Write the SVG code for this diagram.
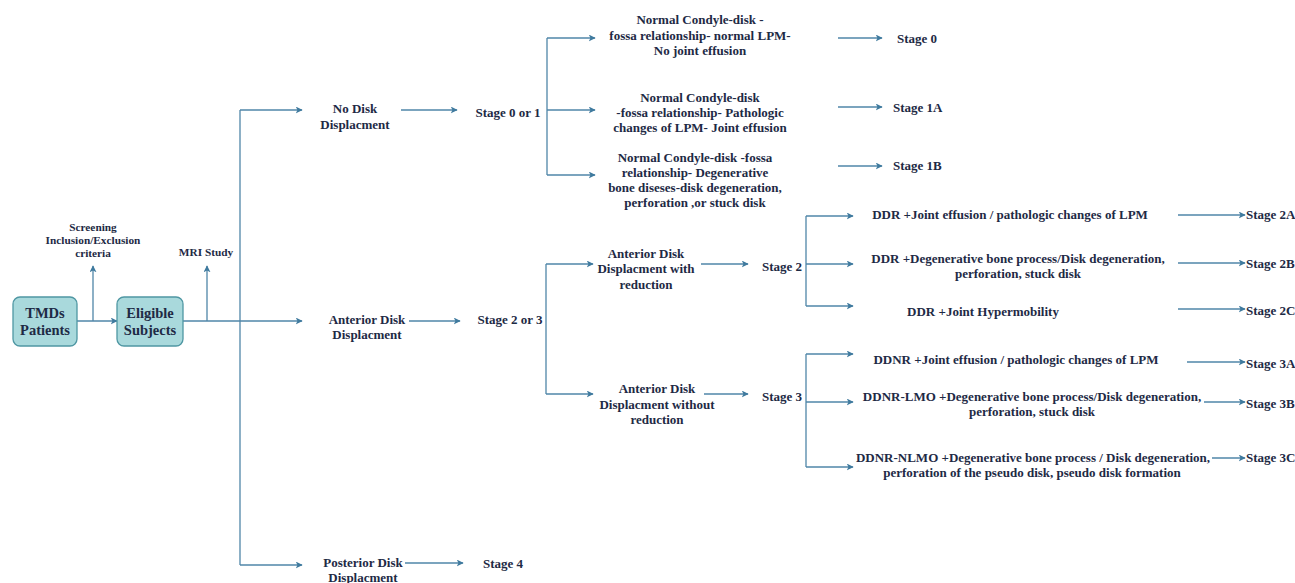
<svg xmlns="http://www.w3.org/2000/svg" width="1295" height="583" viewBox="0 0 1295 583">
<defs>
<marker id="ah" viewBox="0 0 10 10" refX="9" refY="5" markerWidth="7" markerHeight="7" markerUnits="userSpaceOnUse" orient="auto">
<path d="M0,0 L10,5 L0,10 L2.5,5 Z" fill="#3f7a9e"/>
</marker>
<style>
text{font-family:"Liberation Serif","Times New Roman",serif;font-weight:bold;fill:#1e2a45;font-size:13px;dominant-baseline:central}
.c{text-anchor:middle}
.s{text-anchor:start}
.sm{font-size:11.3px}
.big{font-size:14.5px}
.box{fill:#a9d9dc;stroke:#4f97a3;stroke-width:1.3}
.ln{fill:none;stroke:#4f86a8;stroke-width:1.3}
.ar{fill:none;stroke:#4f86a8;stroke-width:1.3;marker-end:url(#ah)}
</style>
</defs>
<rect width="1295" height="583" fill="#ffffff"/>

<g id="connectors">
<path class="ar" d="M77,321 H117"/>
<path class="ar" d="M93,321 V266"/>
<path class="ln" d="M183,321 H240"/>
<path class="ar" d="M207,321 V266"/>
<path class="ln" d="M240,110 V565"/>
<path class="ar" d="M240,110 H302"/>
<path class="ar" d="M240,321 H302"/>
<path class="ar" d="M240,565 H302"/>
<path class="ar" d="M401,110 H457"/>
<path class="ar" d="M409,321 H460"/>
<path class="ar" d="M405,563 H463"/>
<path class="ln" d="M547,38 V175"/>
<path class="ar" d="M547,38 H595"/>
<path class="ar" d="M547,110 H595"/>
<path class="ar" d="M547,175 H595"/>
<path class="ar" d="M838,38 H882"/>
<path class="ar" d="M838,107 H882"/>
<path class="ar" d="M838,166 H882"/>
<path class="ln" d="M546,264 V394"/>
<path class="ar" d="M546,264 H593"/>
<path class="ar" d="M546,394 H593"/>
<path class="ar" d="M701,264 H748"/>
<path class="ar" d="M704,394 H748"/>
<path class="ln" d="M806,216 V306"/>
<path class="ar" d="M806,216 H853"/>
<path class="ar" d="M806,264 H853"/>
<path class="ar" d="M806,306 H853"/>
<path class="ln" d="M806,354 V467"/>
<path class="ar" d="M806,354 H853"/>
<path class="ar" d="M806,402 H853"/>
<path class="ar" d="M806,467 H853"/>
<path class="ar" d="M1178,215 H1245"/>
<path class="ar" d="M1178,263 H1245"/>
<path class="ar" d="M1178,309 H1245"/>
<path class="ar" d="M1187,362 H1245"/>
<path class="ar" d="M1204,402 H1245"/>
<path class="ar" d="M1212,458 H1245"/>
</g>

<g id="tmds">
<rect class="box" x="13" y="297" width="64" height="49" rx="7"/>
<text class="c big" x="45" y="313">TMDs</text>
<text class="c big" x="45" y="330">Patients</text>
</g>
<g id="eligible">
<rect class="box" x="117" y="297" width="66" height="49" rx="7"/>
<text class="c big" x="150" y="313">Eligible</text>
<text class="c big" x="150" y="330">Subjects</text>
</g>
<g id="screening">
<text class="c sm" x="93" y="227">Screening</text>
<text class="c sm" x="93" y="240">Inclusion/Exclusion</text>
<text class="c sm" x="93" y="253">criteria</text>
</g>
<g id="mri">
<text class="c sm" x="206" y="252">MRI Study</text>
</g>

<g id="no-disk">
<text class="c" x="355" y="108">No Disk</text>
<text class="c" x="355" y="124">Displacment</text>
</g>
<g id="stage01">
<text class="c" x="508" y="112">Stage 0 or 1</text>
</g>
<g id="n1">
<text class="c" x="700" y="19">Normal Condyle-disk -</text>
<text class="c" x="700" y="35">fossa relationship- normal LPM-</text>
<text class="c" x="700" y="50">No joint effusion</text>
</g>
<g id="n2">
<text class="c" x="700" y="97">Normal Condyle-disk</text>
<text class="c" x="700" y="112">-fossa relationship- Pathologic</text>
<text class="c" x="700" y="127">changes of LPM- Joint effusion</text>
</g>
<g id="n3">
<text class="c" x="695" y="157">Normal Condyle-disk -fossa</text>
<text class="c" x="695" y="172">relationship- Degenerative</text>
<text class="c" x="695" y="187">bone diseses-disk degeneration,</text>
<text class="c" x="695" y="202">perforation ,or stuck disk</text>
</g>
<g id="s0"><text class="s" x="897" y="38">Stage 0</text></g>
<g id="s1a"><text class="s" x="893" y="107">Stage 1A</text></g>
<g id="s1b"><text class="s" x="893" y="165">Stage 1B</text></g>

<g id="anterior">
<text class="c" x="367" y="319">Anterior Disk</text>
<text class="c" x="367" y="334">Displacment</text>
</g>
<g id="stage23"><text class="c" x="510" y="319">Stage 2 or 3</text></g>
<g id="adr">
<text class="c" x="646" y="253">Anterior Disk</text>
<text class="c" x="646" y="268">Displacment with</text>
<text class="c" x="646" y="284">reduction</text>
</g>
<g id="adnr">
<text class="c" x="657" y="388">Anterior Disk</text>
<text class="c" x="657" y="404">Displacment without</text>
<text class="c" x="657" y="419">reduction</text>
</g>
<g id="stage2"><text class="s" x="762" y="266">Stage 2</text></g>
<g id="stage3"><text class="s" x="762" y="396">Stage 3</text></g>

<g id="d2a"><text class="c" x="1010" y="214">DDR +Joint effusion / pathologic changes of LPM</text></g>
<g id="d2b">
<text class="c" x="1018" y="258">DDR +Degenerative bone process/Disk degeneration,</text>
<text class="c" x="1018" y="273">perforation, stuck disk</text>
</g>
<g id="d2c"><text class="c" x="983" y="311">DDR +Joint Hypermobility</text></g>
<g id="d3a"><text class="c" x="1016" y="359">DDNR +Joint effusion / pathologic changes of LPM</text></g>
<g id="d3b">
<text class="c" x="1032" y="396">DDNR-LMO +Degenerative bone process/Disk degeneration,</text>
<text class="c" x="1032" y="411">perforation, stuck disk</text>
</g>
<g id="d3c">
<text class="c" x="1033" y="457">DDNR-NLMO +Degenerative bone process / Disk degeneration,</text>
<text class="c" x="1032" y="472">perforation of the pseudo disk, pseudo disk formation</text>
</g>
<g id="s2a"><text class="s" x="1246" y="214">Stage 2A</text></g>
<g id="s2b"><text class="s" x="1246" y="263">Stage 2B</text></g>
<g id="s2c"><text class="s" x="1246" y="310">Stage 2C</text></g>
<g id="s3a"><text class="s" x="1246" y="363">Stage 3A</text></g>
<g id="s3b"><text class="s" x="1246" y="403">Stage 3B</text></g>
<g id="s3c"><text class="s" x="1246" y="457">Stage 3C</text></g>

<g id="posterior">
<text class="c" x="363" y="562">Posterior Disk</text>
<text class="c" x="363" y="577">Displacment</text>
</g>
<g id="stage4"><text class="s" x="483" y="563">Stage 4</text></g>
</svg>
